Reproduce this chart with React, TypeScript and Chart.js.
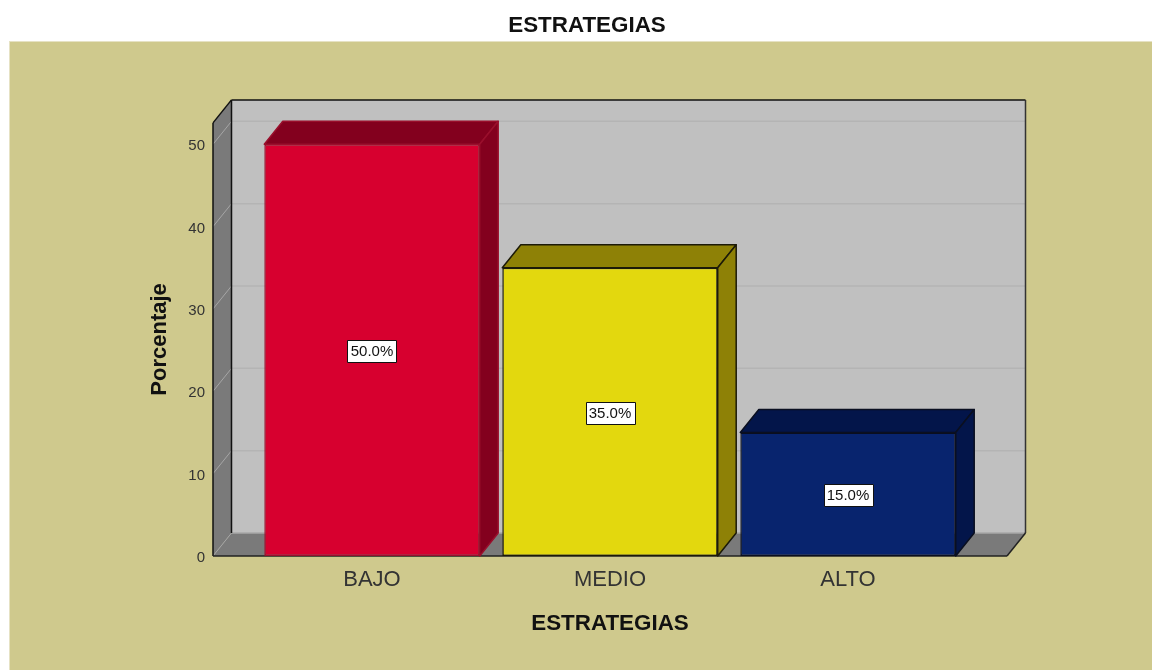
import React, { useEffect, useRef } from "react";
import { Chart, registerables } from "chart.js";

Chart.register(...registerables);

const categories = ["BAJO", "MEDIO", "ALTO"];
const percentages = [50, 35, 15];
const valueLabels = ["50.0%", "35.0%", "15.0%"];
const yTicks = [0, 10, 20, 30, 40, 50];
const chartTitle = "ESTRATEGIAS";
const xTitle = "ESTRATEGIAS";
const yTitle = "Porcentaje";

const FONT = '"Liberation Sans", Arial, sans-serif';
const front = ["#D7002F", "#E3D80E", "#08246E"];
const shade = ["#83001E", "#8E8106", "#03154A"];
const edge = ["#9A0F2C", "#1C1A08", "#0A0F20"];
const DX = 18.5;
const DY = 23;

function poly(ctx: CanvasRenderingContext2D, pts: number[][], fill: string | null, stroke: string | null, lw = 1.5) {
  ctx.beginPath();
  pts.forEach((p, i) => (i ? ctx.lineTo(p[0], p[1]) : ctx.moveTo(p[0], p[1])));
  ctx.closePath();
  if (fill) {
    ctx.fillStyle = fill;
    ctx.fill();
  }
  if (stroke) {
    ctx.strokeStyle = stroke;
    ctx.lineWidth = lw;
    ctx.lineJoin = "round";
    ctx.stroke();
  }
}

function line(ctx: CanvasRenderingContext2D, a: number[], b: number[], color: string, lw: number) {
  ctx.beginPath();
  ctx.moveTo(a[0], a[1]);
  ctx.lineTo(b[0], b[1]);
  ctx.strokeStyle = color;
  ctx.lineWidth = lw;
  ctx.stroke();
}

const panel3d = {
  id: "panel3d",
  afterLayout(chart: any) {
    chart.titleBlock.left = 22;
    chart.titleBlock.right = 1152;
  },
  beforeDraw(chart: any) {
    const { ctx, width, height } = chart;
    ctx.save();
    ctx.fillStyle = "#ffffff";
    ctx.fillRect(0, 0, width, height);
    ctx.fillStyle = "#E6E2C4";
    ctx.fillRect(9, 41, width - 9, height - 41);
    ctx.fillStyle = "#CFC98D";
    ctx.fillRect(10, 42, width - 10, height - 42);
    ctx.restore();
  },
  beforeDatasetsDraw(chart: any) {
    const { ctx, chartArea: a, scales } = chart;
    const L = a.left, R = a.right, T = a.top, B = a.bottom;
    ctx.save();
    // back wall
    poly(ctx, [[L + DX, T - DY], [R + DX, T - DY], [R + DX, B - DY], [L + DX, B - DY]], "#C0C0C0", null);
    // floor
    poly(ctx, [[L, B], [L + DX, B - DY], [R + DX, B - DY], [R, B]], "#7A7A7A", null);
    line(ctx, [L + DX, B - DY], [R + DX, B - DY], "#A8A8A8", 1.5);
    // side wall
    poly(ctx, [[L, T], [L + DX, T - DY], [L + DX, B - DY], [L, B]], "#7A7A7A", null);
    // gridlines
    yTicks.forEach((v) => {
      const y = scales.y.getPixelForValue(v);
      if (v > 0) line(ctx, [L + DX, y - DY], [R + DX, y - DY], "#B4B4B4", 1.5);
      line(ctx, [L, y], [L + DX, y - DY], "#A6A6A6", 1);
    });
    // outlines
    line(ctx, [L, T], [L, B], "#111", 1.5);
    line(ctx, [L, T], [L + DX, T - DY], "#111", 1.5);
    line(ctx, [L + DX, T - DY], [L + DX, B - DY], "#111", 1.5);
    line(ctx, [L + DX, T - DY], [R + DX, T - DY], "#111", 1.5);
    line(ctx, [R + DX, T - DY], [R + DX, B - DY], "#333", 1.5);
    line(ctx, [L, B], [R, B], "#222", 1.5);
    line(ctx, [R, B], [R + DX, B - DY], "#222", 1.5);
    ctx.restore();
  },
  afterDatasetsDraw(chart: any) {
    const { ctx } = chart;
    const bars = chart.getDatasetMeta(0).data;
    ctx.save();
    bars.forEach((bar: any, i: number) => {
      const l = bar.x - bar.width / 2, r = bar.x + bar.width / 2, t = bar.y, b = bar.base;
      poly(ctx, [[l, t], [l + DX, t - DY], [r + DX, t - DY], [r, t]], shade[i], edge[i]);
      poly(ctx, [[r, t], [r + DX, t - DY], [r + DX, b - DY], [r, b]], shade[i], edge[i]);
    });
    ctx.font = `15px ${FONT}`;
    ctx.textAlign = "center";
    ctx.textBaseline = "middle";
    bars.forEach((bar: any, i: number) => {
      const my = (bar.y + bar.base) / 2 + 1;
      const bw = 49, bh = 22;
      const bx = Math.round(bar.x - bw / 2) + 0.5, by = Math.round(my - bh / 2) + 0.5;
      ctx.fillStyle = "#fff";
      ctx.fillRect(bx, by, bw, bh);
      ctx.strokeStyle = "#111";
      ctx.lineWidth = 1;
      ctx.strokeRect(bx, by, bw, bh);
      ctx.fillStyle = "#111";
      ctx.fillText(valueLabels[i], bar.x, my + 1);
    });
    ctx.restore();
  },
};

export default function App() {
  const ref = useRef<HTMLCanvasElement | null>(null);
  useEffect(() => {
    const chart = new Chart(ref.current as HTMLCanvasElement, {
      type: "bar",
      data: {
        datasets: [
          {
            label: yTitle,
            data: percentages.map((y, x) => ({ x, y })),
            backgroundColor: front,
            borderColor: edge,
            borderWidth: 1.5,
            borderSkipped: false,
            barPercentage: 0.905,
            categoryPercentage: 1,
          },
        ],
      },
      options: {
        animation: false,
        responsive: false,
        layout: { padding: { left: 0, top: 0, bottom: 0, right: 145 } },
        plugins: {
          legend: { display: false },
          tooltip: { enabled: false },
          title: {
            display: true,
            text: chartTitle,
            color: "#111",
            font: { family: FONT, size: 22.4, weight: "bold" },
            padding: { top: 12, bottom: 84 },
          },
        },
        scales: {
          x: {
            type: "linear",
            offset: false,
            min: -0.668,
            max: 2.668,
            afterFit: (s: any) => {
              s.height = 114;
            },
            afterBuildTicks: (s: any) => {
              s.ticks = categories.map((_, value) => ({ value }));
            },
            grid: { display: false, drawTicks: false },
            border: { display: false },
            ticks: {
              autoSkip: false,
              maxRotation: 0,
              padding: 11,
              color: "#333",
              font: { family: FONT, size: 22 },
              callback: (v: any) => categories[v] ?? "",
            },
            title: {
              display: true,
              text: xTitle,
              color: "#111",
              font: { family: FONT, size: 22.4, weight: "bold" },
              padding: { top: 0, bottom: 33 },
            },
          },
          y: {
            min: 0,
            max: 52.6,
            afterFit: (s: any) => {
              s.width = 213;
            },
            afterBuildTicks: (s: any) => {
              s.ticks = yTicks.map((value) => ({ value }));
            },
            grid: { display: false, drawTicks: false },
            border: { display: false },
            ticks: {
              padding: 8,
              labelOffset: 2,
              color: "#333",
              font: { family: FONT, size: 15 },
            },
            title: {
              display: true,
              text: yTitle,
              color: "#111",
              font: { family: FONT, size: 22, weight: "bold" },
              padding: { top: 147, bottom: 0 },
            },
          },
        },
      },
      plugins: [panel3d],
    } as any);
    return () => chart.destroy();
  }, []);
  return (
    <div style={{ position: "fixed", left: 0, top: 0, width: 1152, height: 670, overflow: "hidden" }}>
      <canvas ref={ref} width={1152} height={670} style={{ display: "block", width: 1152, height: 670 }} />
    </div>
  );
}
